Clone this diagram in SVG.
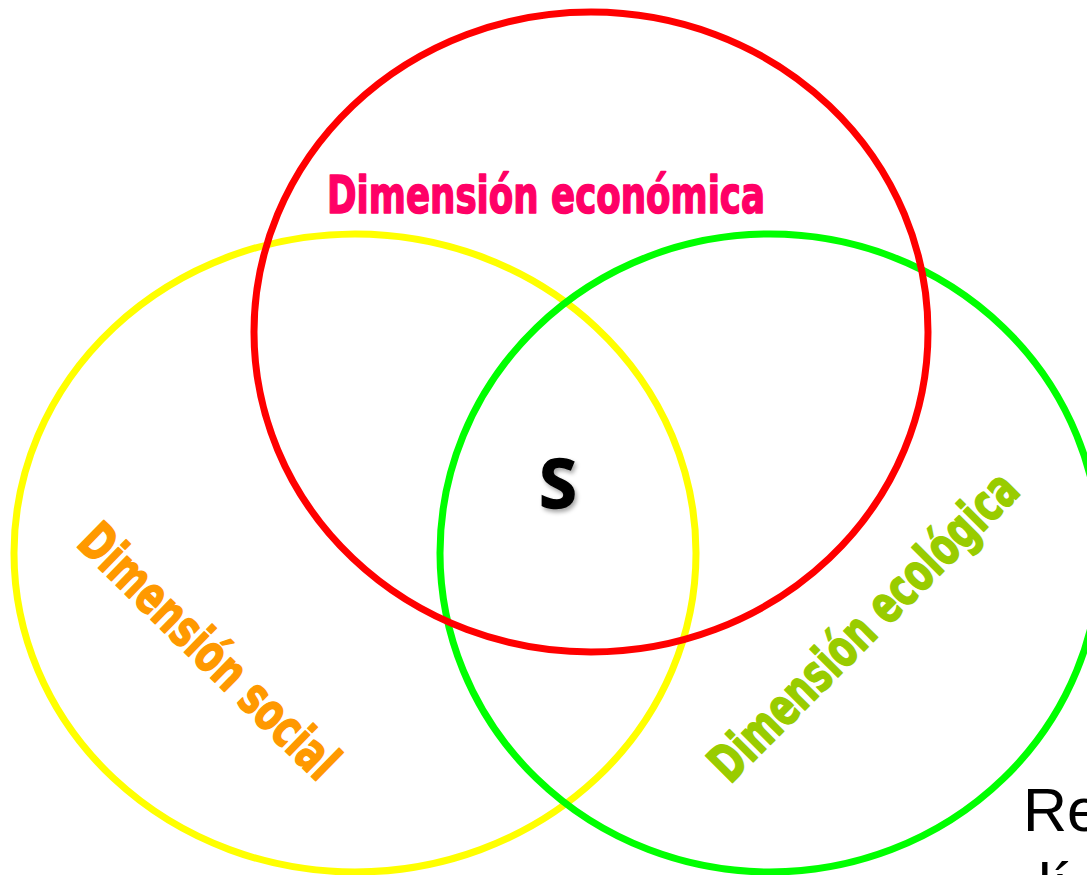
<svg xmlns="http://www.w3.org/2000/svg" width="1087" height="875" viewBox="0 0 1087 875">
<style>
.ring{fill:none;stroke-width:7}
.dim{font-family:"DejaVu Sans Condensed","DejaVu Sans",sans-serif;font-weight:bold;font-size:52px;stroke-width:1.6;stroke-linejoin:round}
</style>
<defs>
<filter id="sh" x="-30%" y="-30%" width="160%" height="160%">
<feDropShadow dx="2" dy="3" stdDeviation="2" flood-color="#000" flood-opacity="0.35"/>
</filter>
</defs>
<rect width="1087" height="875" fill="#fff"/>
<g id="social">
<ellipse class="ring" cx="355" cy="553" rx="341" ry="319" stroke="#FFFF00"/>
<text class="dim" fill="#FF9900" stroke="#FF9900" x="75" y="545" textLength="340" lengthAdjust="spacingAndGlyphs" transform="rotate(44.4 75 545)">Dimensión social</text>
</g>
<g id="ecologica">
<ellipse class="ring" cx="770" cy="553" rx="330" ry="319" stroke="#00FF00"/>
<text class="dim" fill="#99CC00" stroke="#99CC00" x="730" y="785" textLength="413" lengthAdjust="spacingAndGlyphs" transform="rotate(-45 730 785)">Dimensión ecológica</text>
</g>
<g id="economica">
<ellipse class="ring" cx="591" cy="332" rx="337" ry="320" stroke="#FF0000"/>
<text class="dim" fill="#FF0066" stroke="#FF0066" x="327" y="213" textLength="438" lengthAdjust="spacingAndGlyphs">Dimensión económica</text>
</g>
<g id="center">
<text x="558" y="508" text-anchor="middle" font-family="'Open Sans','DejaVu Sans',sans-serif" font-weight="bold" font-size="68" fill="#000" stroke="#000" stroke-width="1.5" filter="url(#sh)">S</text>
</g>
<g id="connectors"></g>
<g id="note" font-family="'Liberation Sans',Arial,sans-serif" font-size="61" fill="#000">
<text x="1023" y="831">Re</text>
<text x="1038" y="906">lí</text>
</g>
</svg>
